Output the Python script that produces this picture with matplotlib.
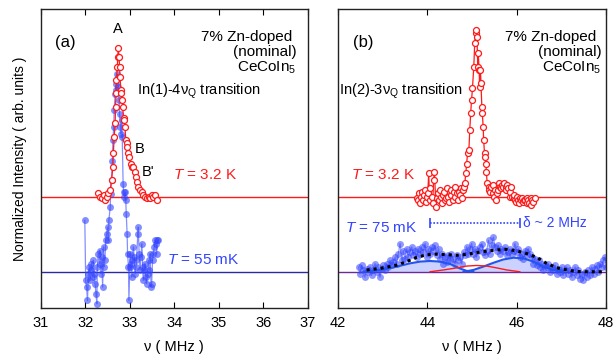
import matplotlib
matplotlib.use('Agg')
import matplotlib.pyplot as plt

plt.rcParams['font.family'] = ['Liberation Sans', 'DejaVu Sans']
plt.rcParams['mathtext.fontset'] = 'custom'
plt.rcParams['mathtext.rm'] = 'Liberation Sans'
plt.rcParams['mathtext.it'] = 'Liberation Sans:italic'

# baselines (offsets) of the two temperature traces
off_hi = 0.372
off_lo = 0.12

# panel (a): In(1)-4vQ, T = 3.2 K
va_red = [32.29, 32.33, 32.37, 32.41, 32.44, 32.48, 32.52, 32.56, 32.59, 32.62, 32.63, 32.65, 32.67,
          32.68, 32.69, 32.70, 32.72, 32.73, 32.74, 32.76, 32.77, 32.78, 32.80, 32.81, 32.83, 32.84,
          32.86, 32.87, 32.89, 32.91, 32.93, 32.94, 32.97, 32.99, 33.02, 33.04, 33.08, 33.12, 33.14,
          33.17, 33.19, 33.23, 33.27, 33.30, 33.34, 33.38, 33.42, 33.45, 33.49, 33.53, 33.56, 33.60]
ia_red = [0.011, 0, -0.006, 0.006, -0.011, 0, 0.011, 0.022, 0.056, 0.10, 0.145, 0.20, 0.245,
          0.30, 0.346, 0.39, 0.435, 0.468, 0.496, 0.468, 0.435, 0.40, 0.357, 0.346, 0.323, 0.30,
          0.262, 0.256, 0.234, 0.19, 0.178, 0.167, 0.145, 0.134, 0.111, 0.10, 0.10, 0.084, 0.067,
          0.05, 0.033, 0.022, 0.017, 0.006, 0, -0.006, 0, -0.006, 0.006, 0, 0.006, -0.011]

# panel (a): T = 55 mK
va_blue = [31.99, 32.01, 32.03, 32.05, 32.07, 32.09, 32.11, 32.12, 32.14, 32.17, 32.18, 32.20, 32.22,
           32.24, 32.26, 32.27, 32.29, 32.32, 32.33, 32.35, 32.37, 32.39, 32.41, 32.42, 32.44, 32.46,
           32.48, 32.50, 32.52, 32.53, 32.56, 32.57, 32.59, 32.61, 32.62, 32.64, 32.65, 32.67, 32.68,
           32.70, 32.71, 32.73, 32.74, 32.76, 32.77, 32.79, 32.80, 32.82, 32.83, 32.85, 32.86, 32.88,
           32.89, 32.91, 32.92, 32.94, 32.95, 32.97, 32.98, 33.00, 33.01, 33.03, 33.04, 33.06, 33.08,
           33.10, 33.12, 33.14, 33.15, 33.18, 33.19, 33.21, 33.23, 33.25, 33.27, 33.29, 33.30, 33.33,
           33.34, 33.36, 33.38, 33.40, 33.42, 33.44, 33.45, 33.48, 33.49, 33.51, 33.53, 33.55, 33.57,
           33.59, 33.60, 33.62, 33.64]
ia_blue = [0.173, -0.028, -0.050, -0.095, -0.006, 0.017, -0.028, 0.006, 0.028, -0.017, 0.039, -0.006, -0.039,
           -0.072, -0.106, 0.017, 0.061, 0.028, 0.072, -0.006, 0.050, -0.050, 0.084, 0.017, 0.039, 0.106,
           0.128, 0.150, 0.106, 0.173, 0.217, 0.262, 0.307, 0.373, 0.440, 0.485, 0.541, 0.596, 0.608,
           0.630, 0.663, 0.652, 0.619, 0.574, 0.530, 0.485, 0.463, 0.507, 0.451, 0.295, 0.268, 0.251,
           0.268, 0.240, 0.195, 0.128, 0.061, 0.017, -0.095, 0.017, 0.061, 0.028, -0.017, 0.039, 0.084,
           0.050, -0.006, 0.017, 0.039, 0.128, 0.150, 0.061, 0.006, 0.050, 0.095, 0.017, -0.028, 0.006,
           0.028, -0.017, -0.039, -0.006, 0.039, 0.006, 0.061, -0.050, -0.039, 0.039, 0.061, 0.084, 0.106,
           0.095, 0.061, 0.106, 0.106]

# panel (b): In(2)-3vQ, T = 3.2 K
vb_red = [43.76, 43.78, 43.81, 43.83, 43.85, 43.87, 43.90, 43.92, 43.94, 43.96, 43.99, 44.01, 44.03,
          44.05, 44.07, 44.10, 44.12, 44.14, 44.16, 44.19, 44.21, 44.23, 44.25, 44.28, 44.30, 44.32,
          44.34, 44.37, 44.39, 44.41, 44.43, 44.46, 44.48, 44.50, 44.52, 44.54, 44.57, 44.59, 44.61,
          44.63, 44.66, 44.68, 44.70, 44.72, 44.75, 44.77, 44.79, 44.81, 44.84, 44.86, 44.88, 44.90,
          44.93, 44.95, 44.97, 44.99, 45.01, 45.04, 45.06, 45.08, 45.10, 45.11, 45.13, 45.14, 45.16,
          45.17, 45.19, 45.20, 45.22, 45.23, 45.25, 45.26, 45.28, 45.29, 45.31, 45.32, 45.34, 45.37,
          45.39, 45.41, 45.43, 45.46, 45.48, 45.50, 45.52, 45.54, 45.57, 45.59, 45.61, 45.63, 45.66,
          45.68, 45.70, 45.72, 45.75, 45.77, 45.79, 45.81, 45.84, 45.86, 45.88, 45.90, 45.93, 45.95,
          45.97, 45.99, 46.01, 46.04, 46.06, 46.08, 46.10, 46.13, 46.15, 46.17, 46.19, 46.22, 46.24,
          46.26, 46.28, 46.31, 46.33, 46.35, 46.37, 46.41]
ib_red = [-0.006, -0.011, 0.011, -0.022, 0, 0.017, -0.011, 0.006, 0.022, -0.017, 0, 0.011, 0.078,
          -0.011, 0.028, 0, -0.022, 0.056, 0.084, -0.033, -0.006, 0.011, -0.011, 0.022, 0, -0.022,
          0.006, 0.017, -0.011, -0.006, 0.028, 0, -0.017, 0.017, 0.006, 0.022, -0.011, 0.017, 0,
          0.033, 0.011, -0.011, 0.017, 0.006, 0.028, -0.006, 0.022, 0.033, 0.047, 0.078, 0.111, 0.145,
          0.156, 0.223, 0.279, 0.323, 0.362, 0.435, 0.513, 0.546, 0.557, 0.535, 0.435, 0.479, 0.424,
          0.368, 0.424, 0.379, 0.301, 0.279, 0.234, 0.190, 0.145, 0.134, 0.111, 0.084, 0.045, 0.033,
          0.022, 0.017, 0.033, 0.011, 0.039, 0, 0.022, -0.011, 0.011, 0.022, 0.045, 0.033, 0.028,
          0.039, 0.033, 0.045, 0.033, 0.022, 0.039, 0.028, 0, 0.017, 0.033, 0, -0.006, 0.006,
          -0.011, -0.017, 0, -0.011, -0.022, -0.006, -0.011, -0.006, -0.017, -0.011, -0.011, -0.022, -0.006,
          -0.011, -0.022, -0.006, -0.028, -0.011, -0.017, -0.006]

# panel (b): T = 75 mK
vb_blue = [42.46, 42.49, 42.53, 42.57, 42.60, 42.64, 42.68, 42.72, 42.75, 42.79, 42.83, 42.87, 42.90,
           42.94, 42.98, 43.01, 43.05, 43.09, 43.13, 43.16, 43.20, 43.24, 43.28, 43.31, 43.35, 43.39,
           43.43, 43.46, 43.50, 43.54, 43.57, 43.61, 43.65, 43.69, 43.72, 43.76, 43.80, 43.84, 43.87,
           43.91, 43.95, 43.99, 44.02, 44.06, 44.10, 44.13, 44.17, 44.21, 44.25, 44.28, 44.32, 44.36,
           44.40, 44.43, 44.47, 44.51, 44.54, 44.58, 44.62, 44.66, 44.69, 44.73, 44.77, 44.81, 44.84,
           44.88, 44.92, 44.96, 44.99, 45.03, 45.07, 45.10, 45.14, 45.18, 45.22, 45.25, 45.29, 45.33,
           45.37, 45.40, 45.44, 45.48, 45.51, 45.55, 45.59, 45.63, 45.66, 45.70, 45.74, 45.78, 45.81,
           45.85, 45.89, 45.93, 45.96, 46.00, 46.04, 46.07, 46.11, 46.15, 46.19, 46.22, 46.26, 46.30,
           46.34, 46.37, 46.41, 46.45, 46.49, 46.52, 46.56, 46.60, 46.63, 46.67, 46.71, 46.75, 46.78,
           46.82, 46.86, 46.90, 46.93, 46.97, 47.01, 47.04, 47.08, 47.12, 47.16, 47.19, 47.23, 47.27,
           47.31, 47.34, 47.38, 47.42, 47.46, 47.49, 47.53, 47.57, 47.60, 47.64, 47.68, 47.72, 47.75,
           47.79, 47.83, 47.87, 47.90, 47.94, 47.98, 48.00]
ib_blue = [0.017, -0.006, 0.022, 0.006, -0.017, 0.011, 0, 0.017, -0.011, 0.006, 0.028, 0, 0.017,
           -0.017, 0.011, 0.022, 0.006, 0.028, 0.017, 0.039, 0.022, 0.033, 0.050, 0.028, 0.061, 0.095,
           0.039, 0.072, 0.045, 0.078, 0.050, 0.067, 0.084, 0.056, 0.072, 0.050, 0.078, 0.061, 0.084,
           0.067, 0.095, 0.050, 0.078, 0.061, 0.084, 0.072, 0.089, 0.056, 0.078, 0.045, 0.061, 0.028,
           0.050, 0.033, 0.056, 0.039, 0.061, 0.045, 0.028, 0.056, 0.039, 0.050, 0.028, 0.067, 0.056,
           0.084, 0.061, 0.078, 0.095, 0.061, 0.078, 0.050, 0.072, 0.084, 0.095, 0.067, 0.056, 0.072,
           0.106, 0.061, 0.089, 0.117, 0.084, 0.072, 0.089, 0.061, 0.078, 0.072, 0.084, 0.056, 0.067,
           0.078, 0.061, 0.072, 0.095, 0.067, 0.078, 0.050, 0.061, 0.045, 0.072, 0.056, 0.078, 0.061,
           0.050, 0.028, 0.045, 0.022, 0.039, 0.017, 0.028, 0.006, 0.022, 0.017, 0.028, 0, 0.017,
           0.006, 0.022, -0.006, 0.011, 0, 0.017, -0.011, 0.006, 0.017, -0.006, 0.006, -0.017, 0,
           0.017, -0.011, 0.006, -0.022, -0.006, -0.028, 0, -0.017, 0.006, -0.011, 0.017, -0.006, 0.011,
           0.022, 0, 0.028, 0.017, 0.039, 0.050, 0.017]

# fit curves
fit_total_v = [42.64, 42.94, 43.31, 43.54, 43.76, 43.99, 44.21, 44.43, 44.66, 44.88, 45.10, 45.33,
               45.55, 45.78, 46.00, 46.22, 46.45, 46.67, 46.90, 47.12, 47.34, 47.57, 47.94]
fit_total_i = [0.007, 0.012, 0.023, 0.035, 0.049, 0.058, 0.060, 0.058, 0.056, 0.059, 0.065, 0.070,
               0.074, 0.076, 0.071, 0.062, 0.049, 0.029, 0.014, 0.007, 0.002, 0.001, 0.001]
fit_b1_v = [42.57, 42.94, 43.31, 43.61, 43.84, 44.06, 44.28, 44.51, 44.73, 44.88, 45.03]
fit_b1_i = [0.001, 0.007, 0.018, 0.029, 0.035, 0.037, 0.035, 0.027, 0.012, 0.004, 0.001]
fit_b2_v = [44.81, 45.03, 45.25, 45.48, 45.70, 45.93, 46.15, 46.37, 46.60, 46.82, 47.04]
fit_b2_i = [0.001, 0.007, 0.018, 0.031, 0.042, 0.048, 0.046, 0.035, 0.018, 0.007, 0.001]
fit_r_v = [44.06, 44.36, 44.66, 44.88, 45.10, 45.33, 45.55, 45.78, 46.07]
fit_r_i = [0.001, 0.007, 0.014, 0.020, 0.022, 0.020, 0.014, 0.007, 0.001]

delta_span = [44.06, 46.07]

red = '#ff1a1a'
blue = '#3344ff'

fig = plt.figure(figsize=(6.14, 3.56), dpi=100)
ax_a = fig.add_axes([0.0663, 0.135, 0.4353, 0.84])
ax_b = fig.add_axes([0.5505, 0.135, 0.4365, 0.84])

for ax in (ax_a, ax_b):
    ax.set_ylim(0, 1)
    ax.set_yticks([])
    ax.tick_params(axis='x', direction='in', top=True, length=4, labelsize=10.5, pad=6)
    for s in ax.spines.values():
        s.set_linewidth(1.0)
        s.set_color('#222222')
    ax.set_xlabel('ν ( MHz )', fontsize=10.5, labelpad=7)

# ---- panel (a)
ax_a.set_xlim(31, 37)
ax_a.set_xticks([31, 32, 33, 34, 35, 36, 37])
ax_a.axhline(off_hi, color=red, lw=1.0)
ax_a.axhline(off_lo, color='#2a2aa8', lw=1.0)
ax_a.plot(va_blue, [off_lo + i for i in ia_blue], '-o', color=blue, alpha=0.6, lw=0.9,
          ms=5, mec='none')
ax_a.plot(va_red, [off_hi + i for i in ia_red], '-o', color=red, lw=0.9, ms=4.3,
          mfc='white', mec=red, mew=0.9)

ax_a.text(0.054, 0.886, '(a)', transform=ax_a.transAxes, fontsize=12, va='center')
ax_a.text(32.74, 0.933, 'A', fontsize=10.5, ha='center', va='center')
ax_a.text(33.21, 0.532, 'B', fontsize=10.5, ha='center', va='center')
ax_a.text(33.40, 0.455, "B'", fontsize=10.5, ha='center', va='center')
ax_a.text(0.94, 0.907, '7% Zn-doped', transform=ax_a.transAxes, fontsize=11, ha='right', va='center')
ax_a.text(0.958, 0.857, '(nominal)', transform=ax_a.transAxes, fontsize=11, ha='right', va='center')
ax_a.text(0.958, 0.802, r'CeCoIn$_\mathregular{5}$', transform=ax_a.transAxes, fontsize=11,
          ha='right', va='center')
ax_a.text(0.359, 0.723, r'In(1)-4ν$_\mathregular{Q}$ transition', transform=ax_a.transAxes,
          fontsize=10.5, va='center')
ax_a.text(0.496, 0.445, r'$\mathit{T}$ = 3.2 K', transform=ax_a.transAxes, fontsize=11,
          color=red, va='center')
ax_a.text(0.471, 0.16, r'$\mathit{T}$ = 55 mK', transform=ax_a.transAxes, fontsize=11,
          color=blue, va='center')
ax_a.set_ylabel('Normalized Intensity ( arb. units )', fontsize=10, labelpad=10)

# ---- panel (b)
ax_b.set_xlim(42, 48)
ax_b.set_xticks([42, 44, 46, 48])
ax_b.axhline(off_hi, color=red, lw=1.0)
ax_b.axhline(off_lo, color='#6a2a9a', lw=1.0)
ax_b.plot(vb_blue, [off_lo + i for i in ib_blue], '-o', color=blue, alpha=0.55, lw=0.9,
          ms=5, mec='none')
ax_b.fill_between(fit_b1_v, off_lo, [off_lo + i for i in fit_b1_i], color='#aab4ff', alpha=0.6, lw=0)
ax_b.fill_between(fit_b2_v, off_lo, [off_lo + i for i in fit_b2_i], color='#aab4ff', alpha=0.6, lw=0)
ax_b.plot(fit_b1_v, [off_lo + i for i in fit_b1_i], color='#2255ee', lw=1.5)
ax_b.plot(fit_b2_v, [off_lo + i for i in fit_b2_i], color='#2255ee', lw=1.5)
ax_b.plot(fit_r_v, [off_lo + i for i in fit_r_i], color=red, lw=1.0)
ax_b.plot(fit_total_v, [off_lo + i for i in fit_total_i], color='black', lw=2.2,
          linestyle=(0, (1, 1.3)))
ax_b.plot(vb_red, [off_hi + i for i in ib_red], '-o', color=red, lw=0.9, ms=4.3,
          mfc='white', mec=red, mew=0.9)

ax_b.plot(delta_span, [0.284, 0.284], color=blue, lw=1.2, linestyle=(0, (1, 1)))
ax_b.plot(delta_span, [0.284, 0.284], linestyle='none', marker='|', ms=7, mew=1.2, color=blue)
ax_b.text(46.15, 0.284, 'δ ~ 2 MHz', fontsize=10, color=blue, va='center')

ax_b.text(0.056, 0.886, '(b)', transform=ax_b.transAxes, fontsize=12, va='center')
ax_b.text(0.965, 0.907, '7% Zn-doped', transform=ax_b.transAxes, fontsize=11, ha='right', va='center')
ax_b.text(0.984, 0.857, '(nominal)', transform=ax_b.transAxes, fontsize=11, ha='right', va='center')
ax_b.text(0.983, 0.802, r'CeCoIn$_\mathregular{5}$', transform=ax_b.transAxes, fontsize=11,
          ha='right', va='center')
ax_b.text(0.005, 0.723, r'In(2)-3ν$_\mathregular{Q}$ transition', transform=ax_b.transAxes,
          fontsize=10.5, va='center')
ax_b.text(0.05, 0.445, r'$\mathit{T}$ = 3.2 K', transform=ax_b.transAxes, fontsize=11,
          color=red, va='center')
ax_b.text(0.026, 0.267, r'$\mathit{T}$ = 75 mK', transform=ax_b.transAxes, fontsize=11,
          color=blue, va='center')

fig.savefig('out.png', dpi=100)
